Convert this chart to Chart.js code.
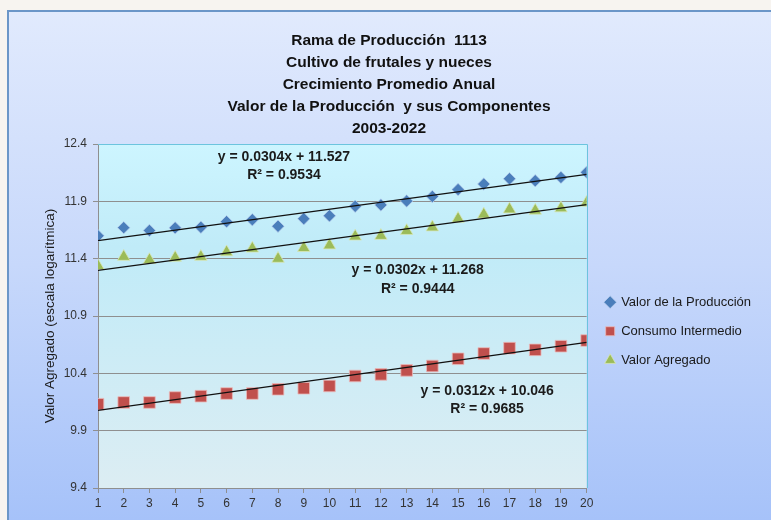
<!DOCTYPE html>
<html>
<head>
<meta charset="utf-8">
<script src="https://cdn.jsdelivr.net/npm/chart.js@4.4.1/dist/chart.umd.min.js"></script>
<style>
  html, body { margin: 0; padding: 0; background: #f7f4f0; }
  #wrap { width: 771px; height: 520px; }
</style>
</head>
<body>
<div id="wrap"><canvas id="chart" width="771" height="520"></canvas></div>
<script>
// años 2003-2022 numerados 1..20
const years = [1, 2, 3, 4, 5, 6, 7, 8, 9, 10, 11, 12, 13, 14, 15, 16, 17, 18, 19, 20];
const valorProduccion = [11.600, 11.671, 11.646, 11.669, 11.674, 11.723, 11.740, 11.683, 11.749, 11.774,
                         11.857, 11.869, 11.903, 11.943, 12.003, 12.051, 12.097, 12.080, 12.109, 12.154];
const consumoIntermedio = [10.131, 10.146, 10.146, 10.189, 10.201, 10.224, 10.224, 10.261, 10.270, 10.290,
                           10.377, 10.391, 10.426, 10.464, 10.527, 10.573, 10.620, 10.605, 10.637, 10.686];
const valorAgregado = [11.337, 11.417, 11.389, 11.409, 11.417, 11.457, 11.489, 11.400, 11.494, 11.517,
                       11.594, 11.600, 11.643, 11.674, 11.749, 11.786, 11.831, 11.820, 11.840, 11.889];
const yTicks = [9.4, 9.9, 10.4, 10.9, 11.4, 11.9, 12.4];
const seriesNames = ['Valor de la Producción', 'Consumo Intermedio', 'Valor Agregado'];

// tendencias lineales (de las etiquetas del gráfico)
const trendSlope = [0.0304, 0.0312, 0.0302];
const trendIntercept = [11.527, 10.046, 11.268];
const trendR2 = [0.9534, 0.9685, 0.9444];

const titleLines = [
  'Rama de Producción  1113',
  'Cultivo de frutales y nueces',
  'Crecimiento Promedio Anual',
  'Valor de la Producción  y sus Componentes',
  '2003-2022'
];

// where each equation label sits, in axis units
const eqAnchors = [{x: 8.23, y: 12.29}, {x: 16.13, y: 10.245}, {x: 13.43, y: 11.30}];

const markers = [
  {style: 'rectRot', radius: 6.2, color: '#4a7ebb', edge: 'rgba(190,210,240,0.7)'},
  {style: 'rect', radius: 8.2, color: '#c0504d', edge: 'rgba(235,185,185,0.8)'},
  {style: 'triangle', radius: 7.2, color: '#9bbb59', edge: 'rgba(215,230,185,0.8)'}
];

const gridGray = '#8f8f8f';
const tickFont = {family: 'Liberation Sans', size: 12};

const seriesData = [valorProduccion, consumoIntermedio, valorAgregado];
const datasets = [];
seriesData.forEach((vals, i) => {
  datasets.push({
    label: seriesNames[i],
    data: years.map((x, j) => ({x: x, y: vals[j]})),
    pointStyle: markers[i].style,
    pointRadius: markers[i].radius,
    backgroundColor: markers[i].color,
    borderColor: markers[i].edge,
    pointBorderWidth: 1,
    showLine: false,
    order: 1
  });
});
trendSlope.forEach((m, i) => {
  const x0 = years[0], x1 = years[years.length - 1];
  datasets.push({
    label: 'trend',
    type: 'line',
    data: [{x: x0, y: trendIntercept[i] + m * x0}, {x: x1, y: trendIntercept[i] + m * x1}],
    borderColor: '#111',
    borderWidth: 1.3,
    pointRadius: 0,
    order: 0
  });
});

const backdrop = {
  id: 'backdrop',
  beforeDraw(chart) {
    const {ctx, chartArea: a} = chart;
    ctx.save();
    ctx.fillStyle = '#f7f4f0';
    ctx.fillRect(0, 0, chart.width, chart.height);
    const g = ctx.createLinearGradient(0, 10, 0, chart.height);
    g.addColorStop(0, '#e1eafd');
    g.addColorStop(0.5, '#c7d8fb');
    g.addColorStop(1, '#a6c2f9');
    ctx.fillStyle = g;
    ctx.fillRect(7, 10, chart.width, chart.height);
    ctx.strokeStyle = '#6b96c8';
    ctx.lineWidth = 2;
    ctx.beginPath();
    ctx.moveTo(8, chart.height);
    ctx.lineTo(8, 11);
    ctx.lineTo(chart.width, 11);
    ctx.stroke();
    // plot area fill
    const p = ctx.createLinearGradient(0, a.top, 0, a.bottom);
    p.addColorStop(0, '#cdf5ff');
    p.addColorStop(0.3, '#c0ebf8');
    p.addColorStop(1, '#dcedf3');
    ctx.fillStyle = p;
    ctx.fillRect(a.left, a.top, a.width, a.height);
    ctx.restore();
  },
  beforeDatasetsDraw(chart) {
    const {ctx, chartArea: a} = chart;
    ctx.save();
    ctx.strokeStyle = '#6cc4de';
    ctx.lineWidth = 1;
    ctx.beginPath();
    ctx.moveTo(a.left, Math.round(a.top) + 0.5);
    ctx.lineTo(Math.round(a.right) + 0.5, Math.round(a.top) + 0.5);
    ctx.lineTo(Math.round(a.right) + 0.5, a.bottom);
    ctx.stroke();
    ctx.restore();
  }
};

const eqLabels = {
  id: 'eqLabels',
  afterDatasetsDraw(chart) {
    const {ctx, scales} = chart;
    ctx.save();
    ctx.font = 'bold 14px "Liberation Sans", sans-serif';
    ctx.fillStyle = '#1b1b1b';
    ctx.textAlign = 'center';
    ctx.textBaseline = 'middle';
    trendSlope.forEach((m, i) => {
      const px = scales.x.getPixelForValue(eqAnchors[i].x);
      const py = scales.y.getPixelForValue(eqAnchors[i].y);
      ctx.fillText('y = ' + m.toFixed(4) + 'x + ' + trendIntercept[i].toFixed(3), px, py);
      ctx.fillText('R² = ' + trendR2[i].toFixed(4), px, py + 18.5);
    });
    ctx.restore();
  }
};

const nudgeLegend = {
  id: 'nudgeLegend',
  afterLayout(chart) {
    if (chart.legend) { chart.legend.left += 3; chart.legend.right += 3; }
  }
};

new Chart(document.getElementById('chart'), {
  type: 'scatter',
  data: {datasets: datasets},
  plugins: [backdrop, eqLabels, nudgeLegend],
  options: {
    responsive: false,
    animation: false,
    layout: {padding: {top: 20, left: 20, right: 13, bottom: 0}},
    plugins: {
      tooltip: {enabled: false},
      title: {
        display: true,
        text: titleLines,
        color: '#111',
        font: {family: '"Liberation Sans", sans-serif', size: 15.5, weight: 'bold', lineHeight: 1.42},
        padding: {top: 10, bottom: 4}
      },
      legend: {
        position: 'right',
        fullSize: false,
        title: {display: true, text: '', padding: 8},
        labels: {
          filter: item => item.text !== 'trend',
          usePointStyle: true,
          boxWidth: 9,
          boxHeight: 9,
          padding: 16,
          color: '#1a1a1a',
          font: {family: 'Liberation Sans', size: 13}
        }
      }
    },
    scales: {
      x: {
        type: 'linear',
        min: 1,
        max: 20,
        afterBuildTicks: ax => { ax.ticks = years.map(v => ({value: v})); },
        afterFit: ax => { ax.height = 32; },
        ticks: {autoSkip: false, maxRotation: 0, padding: 3, color: '#333', font: tickFont},
        grid: {drawOnChartArea: false, color: gridGray, tickLength: 5},
        border: {color: gridGray}
      },
      y: {
        min: 9.4,
        max: 12.4,
        afterBuildTicks: ax => { ax.ticks = yTicks.map(v => ({value: v})); },
        afterFit: ax => { ax.width = 78; },
        ticks: {padding: 6, color: '#333', font: tickFont, callback: v => v.toFixed(1)},
        grid: {color: gridGray, tickLength: 5},
        border: {color: gridGray},
        title: {
          display: true,
          text: 'Valor Agregado (escala logarítmica)',
          color: '#1a1a1a',
          font: {family: 'Liberation Sans', size: 13.5},
          padding: {top: 22, bottom: 0}
        }
      }
    }
  }
});
</script>
</body>
</html>
